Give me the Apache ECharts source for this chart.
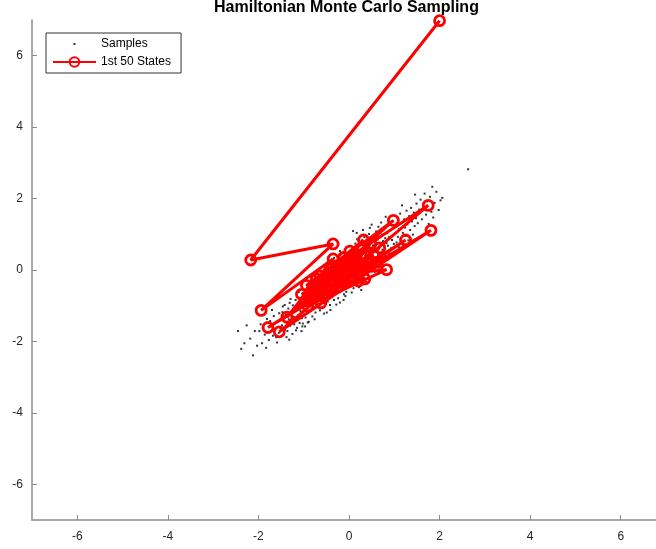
<!DOCTYPE html>
<html>
<head>
<meta charset="utf-8">
<script src="https://cdn.jsdelivr.net/npm/echarts@6/dist/echarts.min.js"></script>
<style>html,body{margin:0;padding:0;background:#fff;overflow:hidden}#c{width:656px;height:549px}</style>
</head>
<body>
<div id="c"></div>
<script>
const titleText = 'Hamiltonian Monte Carlo Sampling';
const seriesNames = ['Samples', '1st 50 States'];
const tickValues = [-6, -4, -2, 0, 2, 4, 6];
const axisMin = -7, axisMax = 7;

// Samples
const samples = [
[-2.45,-1.71],[-2.26,-1.55],[-2.12,-2.39],[-2.08,-1.71],[-2.31,-2.05],[-2.18,-1.92],[-2.03,-2.12],[-2.38,-2.21],
[-1.86,-1.81],[-1.95,-1.52],[-1.92,-2.05],[-1.81,-1.37],[-1.77,-1.96],[-1.72,-1.58],[-1.68,-1.84],[-1.66,-1.29],[-1.63,-1.67],[-1.59,-2.03],[-1.57,-1.45],[-1.54,-1.21],[-1.52,-1.62],[-1.98,-1.71],[-1.89,-1.62],[-1.74,-1.43],[-1.61,-1.88],[-1.55,-1.76],[-1.83,-2.18],[-1.70,-1.12],
[-1.48,-1.55],[-1.47,-1.18],[-1.45,-1.82],[-1.44,-1.36],[-1.42,-0.98],[-1.41,-1.67],[-1.39,-1.25],[-1.37,-1.49],[-1.36,-1.71],[-1.34,-1.08],[-1.33,-1.38],[-1.31,-0.92],[-1.30,-1.56],[-1.28,-1.22],[-1.27,-1.44],[-1.25,-1.79],[-1.24,-0.99],[-1.22,-1.31],[-1.21,-1.52],[-1.19,-1.11],[-1.18,-0.84],[-1.16,-1.40],[-1.15,-1.62],[-1.13,-1.02],[-1.12,-1.27],[-1.10,-0.78],[-1.09,-1.48],[-1.07,-1.15],[-1.06,-0.93],[-1.04,-1.35],[-1.03,-1.58],[-1.02,-0.71],[-1.01,-1.19],[-1.46,-1.02],[-1.38,-1.88],[-1.29,-0.81],[-1.17,-1.69],[-1.11,-0.62],[-1.05,-1.71],[-1.32,-1.95],[-1.13,-1.39],[-1.02,-1.50],
[-0.99,-0.88],[-0.98,-1.12],[-0.97,-0.55],[-0.96,-1.33],[-0.95,-0.74],[-0.94,-1.01],[-0.93,-0.42],[-0.92,-0.89],[-0.91,-1.21],[-0.90,-0.63],[-0.89,-1.45],[-0.88,-0.81],[-0.87,-0.99],[-0.86,-0.37],[-0.85,-0.72],[-0.84,-1.15],[-0.83,-0.58],[-0.82,-0.93],[-0.81,-1.30],[-0.80,-0.47],[-0.79,-0.79],[-0.78,-1.04],[-0.77,-0.28],[-0.76,-0.66],[-0.75,-0.91],[-0.74,-1.19],[-0.73,-0.52],[-0.72,-0.84],[-0.71,-0.33],[-0.70,-1.02],[-0.69,-0.69],[-0.68,-0.44],[-0.67,-0.95],[-0.66,-0.21],[-0.65,-0.77],[-0.64,-1.13],[-0.63,-0.56],[-0.62,-0.39],[-0.61,-0.86],[-0.60,-0.62],[-0.59,-1.05],[-0.58,-0.15],[-0.57,-0.48],[-0.56,-0.74],[-0.55,-0.31],[-0.54,-0.93],[-0.53,-0.58],[-0.52,-0.09],[-0.51,-0.42],[-0.50,-0.80],[-0.97,-1.58],[-0.88,-0.18],[-0.76,-1.38],[-0.63,-0.03],[-0.55,-1.22],[-0.91,-1.47],
[-0.49,-0.61],[-0.48,-0.27],[-0.47,-0.88],[-0.46,-0.45],[-0.45,-0.12],[-0.44,-0.70],[-0.43,-0.35],[-0.42,-0.98],[-0.41,-0.53],[-0.40,0.02],[-0.39,-0.22],[-0.38,-0.76],[-0.37,-0.41],[-0.36,-0.07],[-0.35,-0.59],[-0.34,-0.30],[-0.33,-0.84],[-0.32,0.11],[-0.31,-0.47],[-0.30,-0.18],[-0.29,-0.66],[-0.28,-0.36],[-0.27,0.05],[-0.26,-0.52],[-0.25,-0.25],[-0.24,-0.79],[-0.23,-0.02],[-0.22,-0.43],[-0.21,0.18],[-0.20,-0.61],[-0.19,-0.14],[-0.18,-0.34],[-0.17,0.09],[-0.16,-0.55],[-0.15,-0.23],[-0.14,0.27],[-0.13,-0.42],[-0.12,-0.05],[-0.11,-0.68],[-0.10,0.14],[-0.09,-0.31],[-0.08,0.01],[-0.07,-0.48],[-0.06,0.33],[-0.05,-0.17],[-0.04,0.07],[-0.03,-0.38],[-0.02,0.21],[-0.01,-0.09],[-0.47,0.21],[-0.41,-1.12],[-0.33,0.34],[-0.28,-0.97],[-0.19,0.41],[-0.12,-0.84],[-0.06,-0.61],[-0.44,-0.04],[-0.37,-0.63],[-0.29,0.22],[-0.23,-0.33],[-0.15,0.46],[-0.11,-0.22],[-0.08,-0.73],[-0.03,0.48],[-0.27,-0.11],[-0.49,-1.19],[-0.20,-0.91],[-0.09,0.57],[-0.20,0.53],
[0.01,-0.22],[0.02,0.15],[0.03,-0.41],[0.04,0.36],[0.05,-0.06],[0.06,0.25],[0.07,-0.29],[0.08,0.52],[0.09,0.03],[0.10,-0.51],[0.11,0.19],[0.12,-0.13],[0.13,0.44],[0.14,0.08],[0.15,-0.35],[0.16,0.29],[0.17,1.04],[0.18,-0.02],[0.19,0.61],[0.20,-0.24],[0.21,0.13],[0.22,0.39],[0.23,-0.09],[0.24,0.71],[0.25,0.22],[0.26,-0.31],[0.27,0.48],[0.28,0.05],[0.29,0.83],[0.30,0.31],[0.31,-0.15],[0.32,0.57],[0.33,0.17],[0.34,0.92],[0.35,-0.03],[0.36,0.40],[0.37,0.66],[0.38,0.11],[0.39,0.28],[0.40,0.78],[0.41,-0.12],[0.42,0.51],[0.43,0.23],[0.44,1.01],[0.45,0.36],[0.46,0.04],[0.47,0.62],[0.48,0.19],[0.49,0.88],[0.06,-0.63],[0.14,0.74],[0.22,-0.48],[0.31,1.12],[0.38,-0.33],[0.46,1.18],[0.11,0.59],[0.27,-0.56],[0.35,0.72],[0.43,-0.24],[0.18,0.86],[0.09,1.09],
[0.50,1.27],[0.51,0.42],[0.52,0.08],[0.53,0.69],[0.54,0.26],[0.55,0.95],[0.56,0.51],[0.57,-0.05],[0.58,0.77],[0.59,0.33],[0.60,1.08],[0.61,0.59],[0.62,0.17],[0.63,0.85],[0.64,0.41],[0.65,1.21],[0.66,0.66],[0.67,0.02],[0.68,0.93],[0.69,0.48],[0.70,0.72],[0.71,1.33],[0.72,0.26],[0.73,0.99],[0.74,0.57],[0.75,0.81],[0.76,0.12],[0.77,1.14],[0.78,0.64],[0.79,0.39],[0.80,0.89],[0.81,1.49],[0.82,0.51],[0.83,0.75],[0.84,1.03],[0.85,0.29],[0.86,0.68],[0.87,1.25],[0.88,0.92],[0.89,0.46],[0.91,1.11],[0.93,0.61],[0.95,0.84],[0.97,1.36],[0.99,0.73],
[1.01,1.02],[1.02,0.49],[1.04,1.22],[1.05,0.77],[1.07,1.47],[1.08,0.93],[1.10,0.64],[1.11,1.15],[1.13,1.58],[1.14,0.86],[1.16,1.31],[1.17,1.81],[1.19,1.04],[1.20,0.71],[1.22,1.42],[1.24,1.19],[1.25,0.95],[1.27,1.66],[1.29,1.28],[1.31,0.83],[1.33,1.51],[1.35,1.12],[1.37,1.74],[1.39,1.36],[1.41,0.99],[1.43,1.61],[1.45,1.23],[1.46,2.11],[1.48,1.45],[1.49,1.86],
[1.52,1.31],[1.55,1.69],[1.58,1.97],[1.61,1.42],[1.64,1.81],[1.67,2.14],[1.70,1.55],[1.73,1.92],[1.76,1.29],[1.79,2.05],[1.82,1.63],[1.84,2.33],[1.86,1.47],[1.89,1.88],[1.93,2.19],[1.98,1.68],[2.02,1.95],[2.06,2.02],
[2.63,2.82]
];

// First 50 states of the chain (estimated)
const states = [
[2.00,6.98],[-2.17,0.28],[-0.35,0.73],[-1.94,-1.13],[-0.35,0.31],[-1.37,-1.32],[0.98,1.39],[-0.94,-0.43],[1.75,1.81],[-1.54,-1.73],
[1.81,1.11],[-1.79,-1.61],[1.25,0.84],[-0.91,-1.01],[0.83,0.01],[-0.64,-0.17],[0.32,0.84],[-0.75,-0.62],[0.21,-0.31],[0.02,0.53],
[-0.52,-0.45],[0.35,-0.25],[-0.28,0.12],[-0.85,-0.78],[0.15,0.21],[-0.45,-0.58],[0.55,0.42],[-0.18,-0.12],[-1.05,-0.68],[0.42,0.18],
[-0.62,-0.92],[0.08,-0.05],[-0.38,-0.28],[0.68,0.62],[-0.12,0.35],[-0.95,-0.85],[0.25,0.05],[-0.55,-0.35],[0.48,0.75],[-0.25,-0.48],
[0.12,0.45],[-0.72,-0.25],[0.05,-0.22],[-0.42,0.05],[0.62,0.22],[-0.15,-0.35],[-0.82,-0.55],[0.28,0.38],[-0.32,-0.15],[0.10,0.15]
];

const font = 'Liberation Sans, Arial, Helvetica, sans-serif';
const axisGray = '#8c8c8c';

const chart = echarts.init(document.getElementById('c'), null, {renderer: 'canvas'});
const axisCommon = {
  type: 'value', min: axisMin, max: axisMax,
  axisLine: {show: true, onZero: false, lineStyle: {color: axisGray, width: 1.5}},
  axisTick: {show: true, inside: true, length: 5, customValues: tickValues, lineStyle: {color: axisGray, width: 1}},
  axisLabel: {customValues: tickValues, color: '#262626', fontSize: 12, fontFamily: font},
  splitLine: {show: false}
};
chart.setOption({
  animation: false,
  backgroundColor: '#fff',
  title: {
    text: titleText, left: 214, top: 0, padding: 0,
    textStyle: {fontFamily: font, fontSize: 16, fontWeight: 'bold', color: '#000'}
  },
  grid: {left: 32, width: 634, top: 20, bottom: 29, containLabel: false, outerBoundsMode: 'none'},
  xAxis: Object.assign({}, axisCommon, {axisLabel: Object.assign({}, axisCommon.axisLabel, {margin: 11})}),
  yAxis: Object.assign({}, axisCommon, {axisLabel: Object.assign({}, axisCommon.axisLabel, {margin: 9})}),
  legend: {
    orient: 'vertical', left: 46, top: 33,
    padding: [5, 10, 5, 6], itemGap: 6, itemWidth: 43, itemHeight: 12,
    backgroundColor: '#fff', borderColor: '#333', borderWidth: 1,
    textStyle: {fontFamily: font, fontSize: 12, color: '#000'},
    data: [
      {name: seriesNames[0], icon: 'path://M0,0L0,0M43,12L43,12M20.5,5h2v2h-2z'},
      {name: seriesNames[1]}
    ]
  },
  series: [
    {
      name: seriesNames[0], type: 'scatter', data: samples,
      symbol: 'rect', symbolSize: 2, itemStyle: {color: '#000'}, z: 2, silent: true
    },
    {
      name: seriesNames[1], type: 'line', data: states,
      symbol: 'circle', symbolSize: 10, showAllSymbol: true,
      lineStyle: {color: '#ff0000', width: 3},
      itemStyle: {color: 'rgba(255,255,255,0)', borderColor: '#ff0000', borderWidth: 2.8},
      z: 3, clip: false
    }
  ]
});
</script>
</body>
</html>
